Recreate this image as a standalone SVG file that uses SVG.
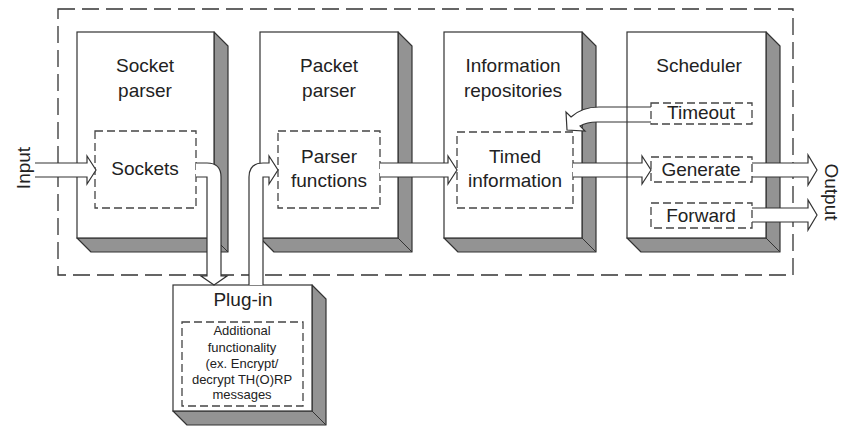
<svg xmlns="http://www.w3.org/2000/svg" width="843" height="426" viewBox="0 0 843 426">
<style>
.front{fill:#fff;stroke:#333;stroke-width:1.2}
.shade{fill:#939393;stroke:#333;stroke-width:1.2;stroke-linejoin:round}
.dash{fill:none;stroke:#444;stroke-width:1.3;stroke-dasharray:8 4}
.outer{fill:none;stroke:#333;stroke-width:1.3;stroke-dasharray:17 7}
.arr{fill:#fff;stroke:#333;stroke-width:1.2;stroke-linejoin:miter}
text{font-family:"Liberation Sans",Arial,sans-serif;fill:#222;text-anchor:middle}
.t{font-size:19px}
.s{font-size:13px}
</style>
<rect class="outer" x="58" y="9" width="735" height="266"/>

<g id="socket-parser">
<path class="shade" d="M214,32 L228,46 L228,252 L91,252 L77,238 L214,238 Z"/>
<line x1="214" y1="238" x2="228" y2="252" stroke="#333" stroke-width="1"/>
<rect class="front" x="77" y="32" width="137" height="206"/>
<text class="t" x="145" y="72">Socket</text>
<text class="t" x="145" y="97">parser</text>
<g id="sockets">
<rect class="dash" x="95" y="131" width="101" height="77"/>
<text class="t" x="145" y="175">Sockets</text>
</g>
</g>

<g id="packet-parser">
<path class="shade" d="M398,32 L412,46 L412,252 L274,252 L260,238 L398,238 Z"/>
<line x1="398" y1="238" x2="412" y2="252" stroke="#333" stroke-width="1"/>
<rect class="front" x="260" y="32" width="138" height="206"/>
<text class="t" x="329" y="72">Packet</text>
<text class="t" x="329" y="97">parser</text>
<g id="parser-functions">
<rect class="dash" x="278" y="131" width="102" height="77"/>
<text class="t" x="329" y="163">Parser</text>
<text class="t" x="329" y="187">functions</text>
</g>
</g>

<g id="information-repositories">
<path class="shade" d="M582,32 L596,46 L596,252 L458,252 L444,238 L582,238 Z"/>
<line x1="582" y1="238" x2="596" y2="252" stroke="#333" stroke-width="1"/>
<rect class="front" x="444" y="32" width="138" height="206"/>
<text class="t" x="513" y="72">Information</text>
<text class="t" x="513" y="97">repositories</text>
<g id="timed-information">
<rect class="dash" x="457" y="132" width="116" height="76"/>
<text class="t" x="515" y="163">Timed</text>
<text class="t" x="515" y="187">information</text>
</g>
</g>

<g id="scheduler">
<path class="shade" d="M766,32 L780,46 L780,252 L641,252 L627,238 L766,238 Z"/>
<line x1="766" y1="238" x2="780" y2="252" stroke="#333" stroke-width="1"/>
<rect class="front" x="627" y="32" width="139" height="206"/>
<text class="t" x="699" y="72">Scheduler</text>
</g>

<g id="plug-in">
<path class="shade" d="M312,285 L326,299 L326,425 L187,425 L173,411 L312,411 Z"/>
<line x1="312" y1="411" x2="326" y2="425" stroke="#333" stroke-width="1"/>
<rect class="front" x="173" y="285" width="139" height="126"/>
<text class="t" x="243" y="306">Plug-in</text>
<g id="additional-functionality">
<rect class="dash" x="182" y="322" width="121" height="84"/>
<text class="s" x="242" y="335">Additional</text>
<text class="s" x="242" y="352">functionality</text>
<text class="s" x="242" y="368">(ex. Encrypt/</text>
<text class="s" x="242" y="384">decrypt TH(O)RP</text>
<text class="s" x="242" y="399">messages</text>
</g>
</g>

<g id="connectors">
<path class="arr" d="M35,163 H87 V156 L96,170 L87,184 V177 H35"/>
<path class="arr" d="M196,163 H207 Q221,163 221,177 V276 H227 L214,285 L201,276 H207 V177 H196"/>
<path class="arr" d="M249,285 V177 Q249,163 263,163 H269 V156 L278,170 L269,184 V177 H263 V285"/>
<path class="arr" d="M380,163 H448 V156 L457,170 L448,184 V177 H380"/>
<path class="arr" d="M573,163 H642 V156 L651,170 L642,184 V177 H573"/>
<path class="arr" d="M651,107 H599 Q582,107 571,117 L566,112 L567,130 L585,131 L580,126 Q587,122 597,122 H651"/>
<path class="arr" d="M752,163 H808 V155 L817,170 L808,185 V177 H752"/>
<path class="arr" d="M752,208 H808 V200 L817,215 L808,230 V222 H752"/>
<line x1="627" y1="107" x2="627" y2="122" stroke="#333" stroke-width="1.2"/>
<line x1="627" y1="163" x2="627" y2="177" stroke="#333" stroke-width="1.2"/>
</g>

<g id="scheduler-items">
<g id="timeout">
<rect class="dash" x="651" y="103" width="101" height="21"/>
<text class="t" x="701" y="119">Timeout</text>
</g>
<g id="generate">
<rect class="dash" x="651" y="157" width="101" height="25"/>
<text class="t" x="701" y="176">Generate</text>
</g>
<g id="forward">
<rect class="dash" x="651" y="203" width="101" height="25"/>
<text class="t" x="701" y="222">Forward</text>
</g>
</g>

<g id="input-label"><text class="t" transform="translate(30,168) rotate(-90)">Input</text></g>
<g id="output-label"><text class="t" transform="translate(825,192) rotate(90)">Output</text></g>
</svg>
